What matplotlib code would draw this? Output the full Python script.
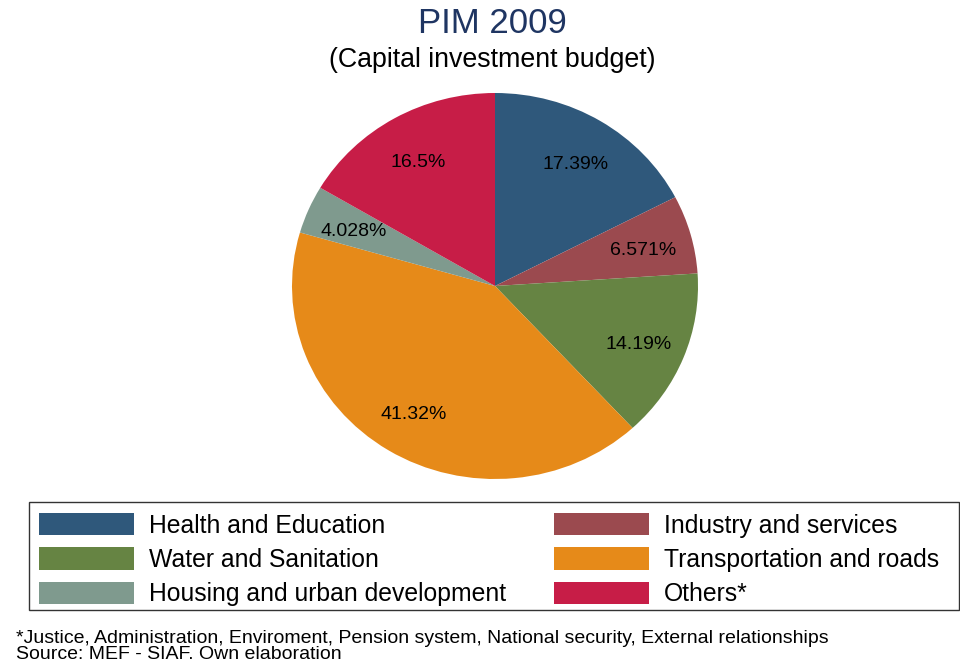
import matplotlib.pyplot as plt
from matplotlib.patches import Patch, Rectangle
from matplotlib.transforms import offset_copy

plt.rcParams["font.family"] = ["Liberation Sans", "DejaVu Sans"]

# data (share of capital investment budget, %)
categories = ["Health and Education", "Industry and services", "Water and Sanitation",
              "Transportation and roads", "Housing and urban development", "Others*"]
shares = [17.39, 6.571, 14.19, 41.32, 4.028, 16.5]
colors = ["#2f587b", "#9b4a4f", "#668443", "#e68a19", "#7f9a8e", "#c71d47"]

W, H = 960, 664
fig = plt.figure(figsize=(9.6, 6.64), dpi=100)

# pie axes (slightly wider than tall, like the original)
ax = fig.add_axes([292/W, 1 - 479/H, 406/W, 386/H])
wedges, texts, autotexts = ax.pie(
    shares, colors=colors, startangle=90, counterclock=False,
    autopct=lambda p: f"{p:.4g}%", pctdistance=0.76,
    wedgeprops=dict(linewidth=0), textprops=dict(fontsize=14, color="black"))
for t in autotexts:
    t.set_va("center_baseline")
    t.set_transform(offset_copy(ax.transData, fig=fig, x=0, y=-1.5, units="points"))
ax.set_aspect("auto")
ax.set_xlim(-1, 1)
ax.set_ylim(-1, 1)
ax.axis("off")

fig.text(0.5125, 1 - 33/H, "PIM 2009", ha="center", va="baseline",
         fontsize=25, color="#1f3562")
fig.text(0.5125, 1 - 67/H, "(Capital investment budget)", ha="center", va="baseline",
         fontsize=19.3, color="black")

# legend, filled row by row, inside a wide box
order = [0, 2, 4, 1, 3, 5]
handles = [Patch(facecolor=colors[i], edgecolor="none") for i in order]
labels = [categories[i] for i in order]
fs = 17.8
px = fs * 100 / 72
leg = fig.legend(handles, labels, ncol=2, loc="upper left",
                 bbox_to_anchor=(39/W, 1 - 513/H), borderaxespad=0, borderpad=0,
                 fontsize=fs, handlelength=95/px, handleheight=25/px,
                 handletextpad=15/px, labelspacing=9.8/px, columnspacing=1.95,
                 frameon=False)
fig.patches.append(Rectangle((29/W, 1 - 610/H), 930/W, 108/H, transform=fig.transFigure,
                             fill=False, edgecolor="#333333", linewidth=1.0))

footnote = ["*Justice, Administration, Enviroment, Pension system, National security, External relationships",
            "Source: MEF - SIAF. Own elaboration"]
fig.text(16/W, 1 - 659/H, "\n".join(footnote), ha="left", va="baseline",
         fontsize=14, linespacing=0.9)

fig.savefig("out.png", dpi=100, facecolor="white")
